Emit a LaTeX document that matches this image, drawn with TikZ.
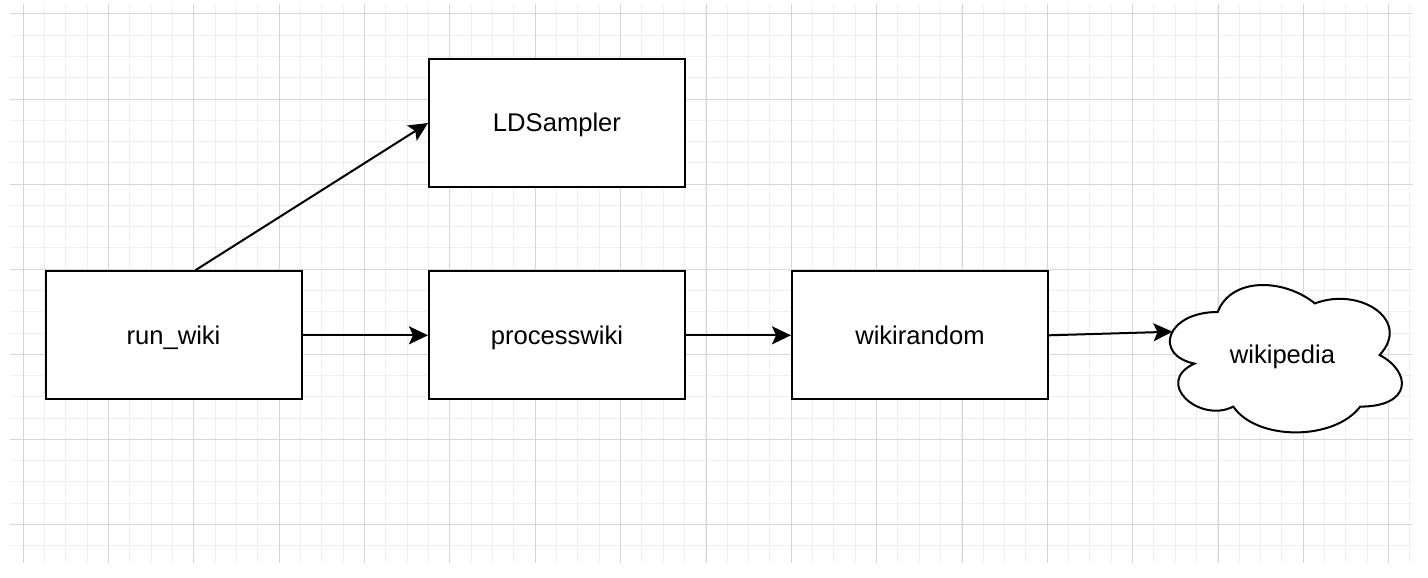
\documentclass[tikz,border=0pt]{standalone}
\usepackage{fontspec}
\setmainfont{Liberation Sans}
\usetikzlibrary{arrows.meta}
\tikzset{
  minorgrid/.style={draw=black!6, line width=1pt},
  majorgrid/.style={draw=black!16, line width=1pt},
  procbox/.style={draw=black, fill=white, line width=2pt, minimum width=256pt, minimum height=128pt, inner sep=0pt, text height=23.2pt, text depth=5.4pt, font=\fontsize{25.6}{30}\selectfont},
  lbl/.style={inner sep=0pt, text height=23.2pt, text depth=5.4pt, font=\fontsize{25.6}{30}\selectfont},
  conn/.style={draw=black, line width=2pt, -{Stealth[length=19pt,width=18pt,inset=4pt]}},
}
\begin{document}
\begin{tikzpicture}[x=1pt,y=-1pt]
\useasboundingbox (0,0) rectangle (1428,578);
\fill[white] (0,0) rectangle (1428,578);
% grid
\foreach \k in {0,...,65} \draw[minorgrid] ({23.33+21.333*\k},4) -- ({23.33+21.333*\k},563);
\foreach \k in {0,...,25} \draw[minorgrid] (10,{14+21.27*\k}) -- (1413,{14+21.27*\k});
\foreach \k in {0,...,16} \draw[majorgrid] ({23.33+85.333*\k},4) -- ({23.33+85.333*\k},563);
\foreach \k in {0,...,6} \draw[majorgrid] (10,{14+85.08*\k}) -- (1413,{14+85.08*\k});
% boxes
\node[procbox] (run_wiki) at (173.5,335.3) {run\_wiki};
\node[procbox] (LDSampler) at (557,123) {LDSampler};
\node[procbox] (processwiki) at (557,335.3) {processwiki};
\node[procbox] (wikirandom) at (920,335.3) {wikirandom};
% cloud
\draw[line width=2pt, fill=white] (1217.75,312)
  .. controls (1165.95,312) and (1153,355) .. (1194.44,363.6)
  .. controls (1153,382.52) and (1199.62,423.8) .. (1233.29,406.6)
  .. controls (1256.6,441) and (1334.3,441) .. (1360.2,406.6)
  .. controls (1412,406.6) and (1412,372.2) .. (1379.6,355)
  .. controls (1412,320.6) and (1360.2,286.2) .. (1314.9,303.4)
  .. controls (1282.5,277.6) and (1230.7,277.6) .. (1217.75,312) -- cycle;
\node[lbl] (wikipedia) at (1282.5,355) {wikipedia};
\coordinate (cloudin) at (1172.5,331.7);
% connectors
\draw[conn] ([xshift=21.8pt]run_wiki.north) -- (LDSampler.west);
\draw[conn] (run_wiki.east) -- (processwiki.west);
\draw[conn] (processwiki.east) -- (wikirandom.west);
\draw[conn] (wikirandom.east) -- (cloudin);
\end{tikzpicture}
\end{document}
